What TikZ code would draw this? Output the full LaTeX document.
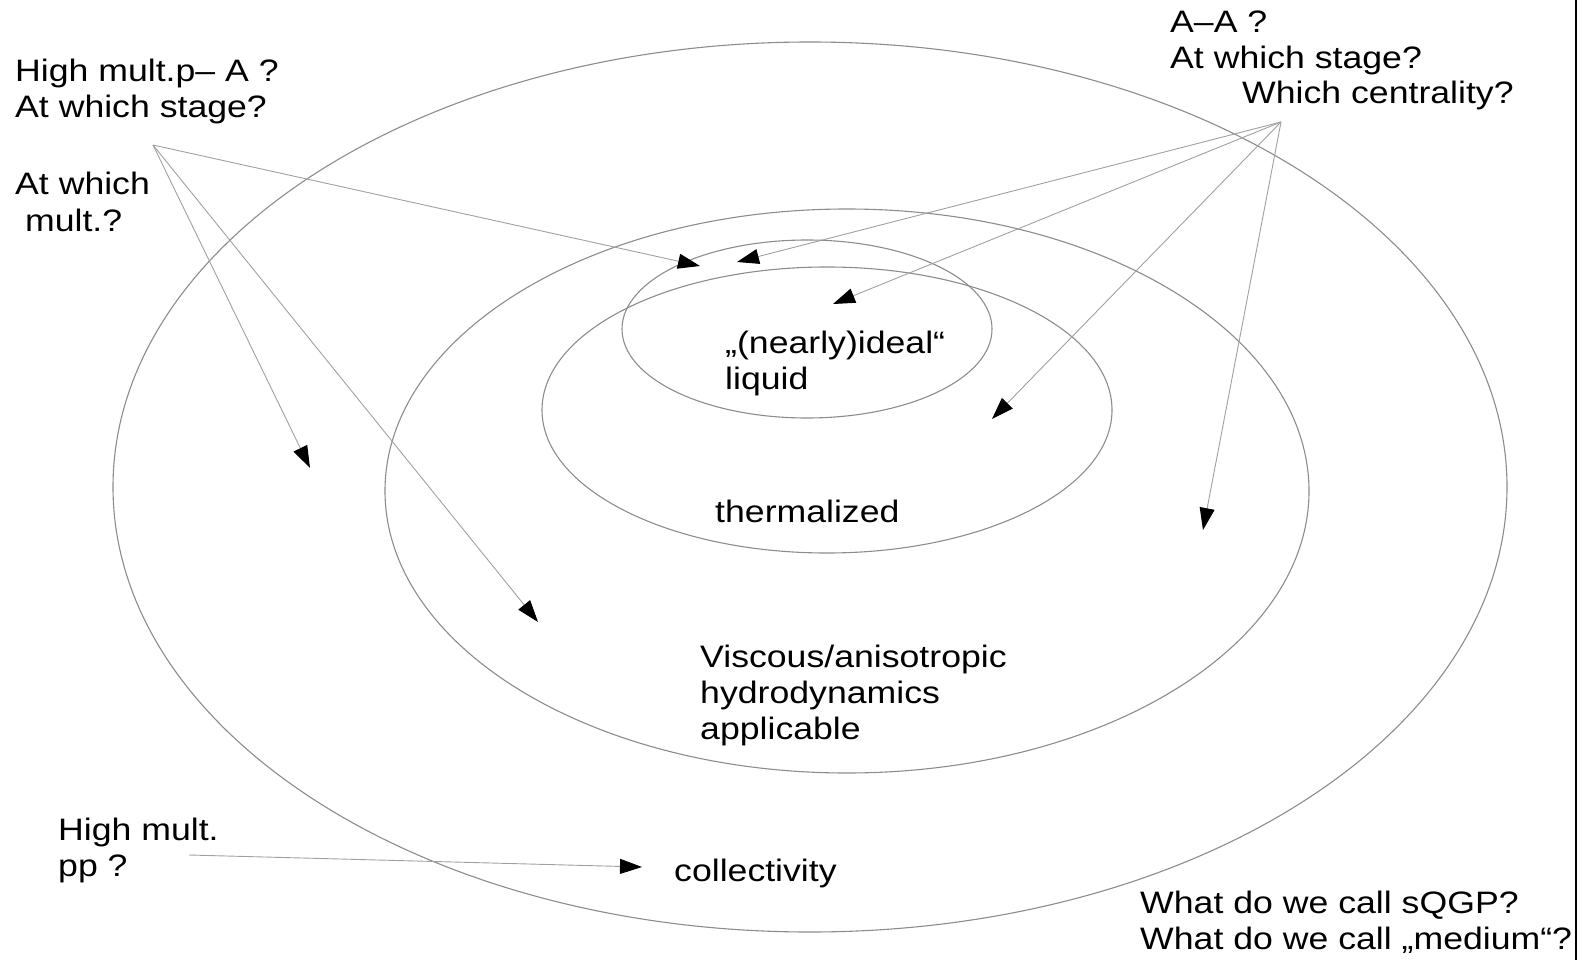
\documentclass[tikz,border=0pt]{standalone}
\usepackage{fontspec}
\setmainfont{Liberation Sans}[FakeStretch=1.15]
\usetikzlibrary{arrows.meta}
\definecolor{qgpcinza}{HTML}{8C8C8C}
\definecolor{qgpcinzaclaro}{HTML}{A0A0A0}
\tikzset{
  qgpzona/.style={draw=qgpcinza, line width=1.1pt},
  qgpseta/.style={draw=qgpcinzaclaro, line width=0.9pt,
                  -{Triangle[length=22pt, width=15pt, color=black]}},
  qgprotulo/.style={font=\fontsize{31pt}{36pt}\selectfont, align=left,
                  anchor=base west, inner sep=0pt},
}
\begin{document}
\begin{tikzpicture}[x=1pt, y=-1pt]
    \useasboundingbox (0,0) rectangle (1584,960);
    % zones
    \draw[qgpzona] (810,487) ellipse [x radius=697pt, y radius=445pt];
    \draw[qgpzona] (847,491) ellipse [x radius=462pt, y radius=282pt];
    \draw[qgpzona] (827,410) ellipse [x radius=285pt, y radius=143pt];
    \draw[qgpzona] (807,329) ellipse [x radius=185pt, y radius=89pt];
    \draw[line width=1.6pt] (1576,0) -- (1576,960);
    % labels (placed at the baseline of their last line)
    \node[qgprotulo] (pa) at (15,118) {High mult.p– A ?\\At which stage?};
    \node[qgprotulo] (pamult) at (15,231) {At which\\\ mult.?};
    \node[qgprotulo] (aa) at (1170,69) {A–A ?\\At which stage?};
    \node[qgprotulo] (aacent) at (1242,104) {Which centrality?};
    \node[qgprotulo] (ideal) at (725,389) {„(nearly)ideal“\\liquid};
    \node[qgprotulo] (therm) at (715,522) {thermalized};
    \node[qgprotulo] (hydro) at (700,739) {Viscous/anisotropic\\hydrodynamics\\applicable};
    \node[qgprotulo] (pp) at (58,876) {High mult.\\pp ?};
    \node[qgprotulo] (coll) at (674,881) {collectivity};
    \node[qgprotulo] (sqgp) at (1140,949) {What do we call sQGP?\\What do we call „medium“?};
    % arrow ends
    \coordinate (hubpa) at (153,145);
    \coordinate (hubaa) at (1281,122);
    \coordinate (hubpp) at (189,855);
    \coordinate (pa1) at (310,468);
    \coordinate (pa2) at (538,622);
    \coordinate (pa3) at (700,266);
    \coordinate (aa1) at (737,262);
    \coordinate (aa2) at (833,304);
    \coordinate (aa3) at (992,419);
    \coordinate (aa4) at (1203,530);
    \coordinate (pp1) at (642,867);
    \foreach \t in {pa1,pa2,pa3}
        \draw[qgpseta] (hubpa) -- (\t);
    \foreach \t in {aa1,aa2,aa3,aa4}
        \draw[qgpseta] (hubaa) -- (\t);
    \draw[qgpseta] (hubpp) -- (pp1);
\end{tikzpicture}
\end{document}
